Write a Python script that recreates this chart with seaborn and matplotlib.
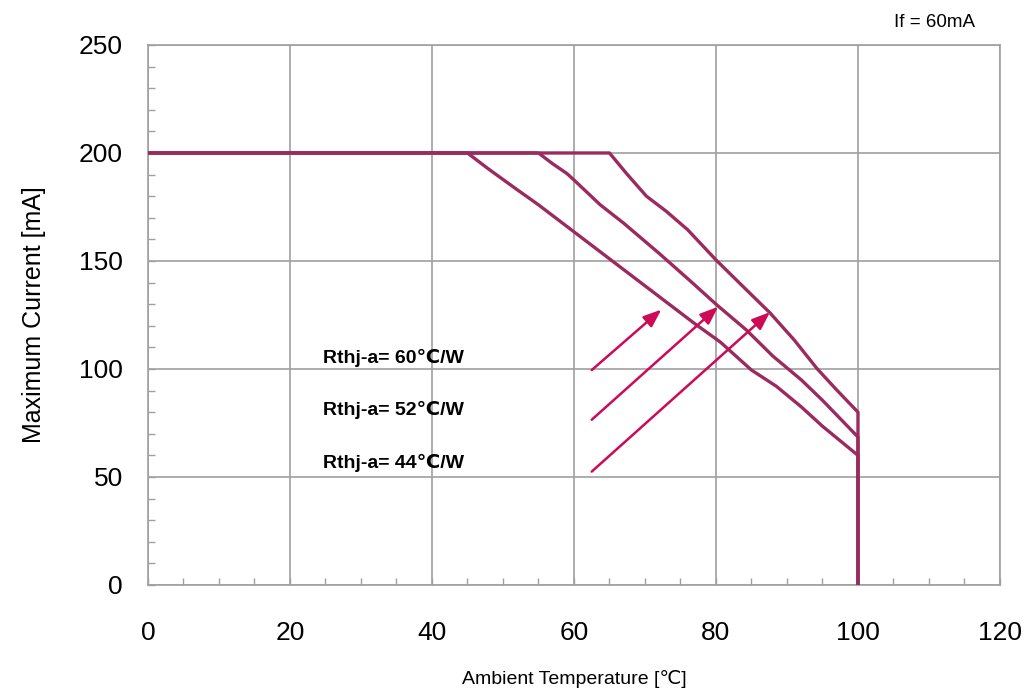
import numpy as np
import pandas as pd
import matplotlib
matplotlib.use("Agg")
import matplotlib.pyplot as plt
from matplotlib.ticker import MultipleLocator
import seaborn as sns

# Derating curves: ambient temperature [°C] vs maximum forward current [mA]
temp_60 = [0, 45, 48, 52, 55, 60, 65, 69, 72, 77, 80.6, 85, 88.5, 92, 95, 100, 100]
curr_60 = [200, 200, 192.5, 183, 176, 163.5, 151, 141, 133.5, 121, 112.5, 99.5, 92, 82.5, 73.5, 60, 0]

temp_52 = [0, 55, 57, 59, 60, 63.7, 67, 72, 76.3, 80, 84.3, 88, 92, 95, 100, 100]
curr_52 = [200, 200, 195, 190.5, 187.5, 176, 167.5, 153.5, 141, 130, 118, 106, 95, 85.5, 68.5, 0]

temp_44 = [0, 65, 67.4, 70.2, 73, 76, 80, 84.3, 87.6, 91, 94.2, 97, 100, 100]
curr_44 = [200, 200, 190.5, 180, 173, 164.5, 150.5, 136.6, 126, 113.5, 100.3, 90.3, 80, 0]

rth_labels = ["Rthj-a= 60℃/W", "Rthj-a= 52℃/W", "Rthj-a= 44℃/W"]
label_pos = [(24.6, 105.0), (24.6, 81.0), (24.6, 56.5)]

# Pointer arrows: (tail temp, tail current) -> (head temp, head current)
arrow_tail_x = [62.5, 62.5, 62.5]
arrow_tail_y = [99.5, 76.5, 52.5]
arrow_head_x = [72.3, 80.3, 87.6]
arrow_head_y = [127.5, 128.8, 126.3]

x_ticks = [0, 20, 40, 60, 80, 100, 120]
y_ticks = [0, 50, 100, 150, 200, 250]

frames = []
for name, t, c in [("60", temp_60, curr_60), ("52", temp_52, curr_52), ("44", temp_44, curr_44)]:
    frames.append(pd.DataFrame({"temp": t, "current": c, "rth": name, "order": range(len(t))}))
df = pd.concat(frames, ignore_index=True)

sns.set_theme(style="white")
plt.rcParams["font.family"] = ["Liberation Sans", "DejaVu Sans"]
plt.rcParams["text.color"] = "black"
plt.rcParams["axes.labelcolor"] = "black"

fig = plt.figure(figsize=(10.29, 6.9), dpi=100)
ax = fig.add_axes([0.1438, 0.1522, 0.8280, 0.7826])

curve_color = "#9b2b5e"
arrow_color = "#cc0a55"
grid_color = "#a0a0a0"

for name in ["60", "52", "44"]:
    sub = df[df["rth"] == name]
    sns.lineplot(data=sub, x="temp", y="current", sort=False, estimator=None,
                 color=curve_color, linewidth=2.4, ax=ax, zorder=3)

ax.set_xlim(0, 120)
ax.set_ylim(0, 250)
ax.set_xticks(x_ticks)
ax.set_yticks(y_ticks)
ax.xaxis.set_minor_locator(MultipleLocator(5))
ax.yaxis.set_minor_locator(MultipleLocator(10))
ax.grid(True, which="major", color=grid_color, linewidth=1.2, zorder=0)
ax.set_axisbelow(True)
for s in ax.spines.values():
    s.set_color(grid_color)
    s.set_linewidth(1.2)
ax.tick_params(axis="both", which="both", direction="in", color=grid_color, width=1.0,
               bottom=True, left=True, top=False, right=False)
ax.tick_params(axis="both", which="major", length=5, labelsize=19, labelcolor="black")
ax.tick_params(axis="both", which="minor", length=5)
ax.tick_params(axis="x", which="major", pad=26)
ax.tick_params(axis="y", which="major", pad=18)

ax.set_xlabel("Ambient Temperature [℃]", fontsize=14, labelpad=18)
ax.set_ylabel("Maximum Current [mA]", fontsize=18, labelpad=24)

for txt, (lx, ly) in zip(rth_labels, label_pos):
    ax.text(lx, ly, txt, fontsize=14, fontweight="bold", ha="left", va="center",
            color="black", zorder=4)

for tx, ty, hx, hy in zip(arrow_tail_x, arrow_tail_y, arrow_head_x, arrow_head_y):
    ax.annotate("", xy=(hx, hy), xytext=(tx, ty),
                arrowprops=dict(arrowstyle="-|>,head_length=0.9,head_width=0.35",
                                color=arrow_color, lw=1.8, shrinkA=0, shrinkB=0),
                zorder=5)

fig.text(0.9475, 0.968, "If = 60mA", fontsize=13.5, ha="right", va="center", color="black")

fig.savefig("out.png", dpi=100)
